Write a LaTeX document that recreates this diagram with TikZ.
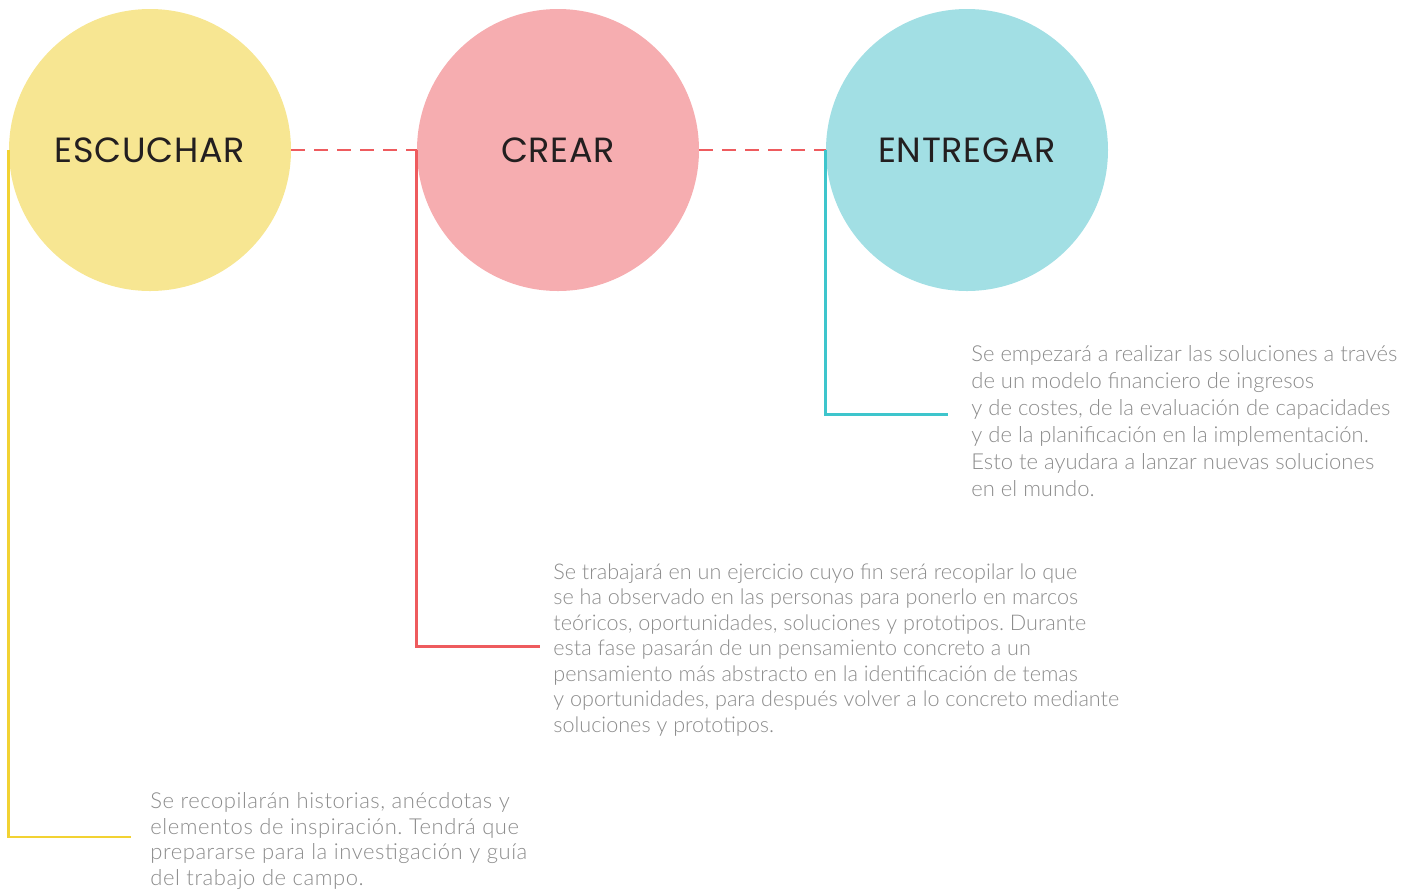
\documentclass[tikz,border=0pt]{standalone}
\usepackage{fontspec}
\setmainfont{Lato Light}
\newfontfamily\headfont{Poppins}
\usepackage{xcolor}
\usepackage{tikz}
\usetikzlibrary{positioning}
\frenchspacing

\definecolor{escuchaFill}{HTML}{F7E692}
\definecolor{crearFill}{HTML}{F6ADB0}
\definecolor{entregaFill}{HTML}{A2DFE4}
\definecolor{escuchaLine}{HTML}{F2D232}
\definecolor{crearLine}{HTML}{EE5B5E}
\definecolor{entregaLine}{HTML}{3EC5CC}
\definecolor{headInk}{HTML}{231F20}
\definecolor{bodyInk}{HTML}{8C8C8C}

\begin{document}
\begin{tikzpicture}[x=0.5pt, y=-0.5pt,
    phase/.style={circle, minimum size=141pt, inner sep=0pt, text=headInk,
        font=\headfont\fontsize{17.5}{20}\selectfont\addfontfeature{LetterSpace=2}},
    blurb/.style={anchor=west, align=left, inner sep=0pt, text=bodyInk,
        font=\fontsize{11}{13.5}\selectfont},
    link/.style={draw=crearLine, line width=1.4pt, dash pattern=on 7pt off 4.5pt},
    leader/.style={line width=1.4pt}]
    \useasboundingbox (0,0) rectangle (1421,891);
    % Three phases
    \node[phase, fill=escuchaFill] (escuchar) at (150,150) {ESCUCHAR};
    \node[phase, fill=crearFill] (crear) at (558,150) {CREAR};
    \node[phase, fill=entregaFill] (entregar) at (967,150) {ENTREGAR};
    % Dashed links between phases
    \draw[link] (escuchar.east) -- (crear.west);
    \draw[link] (crear.east) -- (entregar.west);
    % Descriptions
    \node[blurb] (txtEntregar) at (971,421) {Se empezará a realizar las soluciones a través\\
        de un modelo financiero de ingresos\\
        y de costes, de la evaluación de capacidades\\
        y de la planificación en la implementación.\\
        Esto te ayudara a lanzar nuevas soluciones\\
        en el mundo.};
    \node[blurb, font=\fontsize{10.8}{12.75}\selectfont] (txtCrear) at (553,650) {Se trabajará en un ejercicio cuyo fin será recopilar lo que\\
        se ha observado en las personas para ponerlo en marcos\\
        teóricos, oportunidades, soluciones y prototipos. Durante\\
        esta fase pasarán de un pensamiento concreto a un\\
        pensamiento más abstracto en la identificación de temas\\
        y oportunidades, para después volver a lo concreto mediante\\
        soluciones y prototipos.};
    \node[blurb, font=\fontsize{11}{12.75}\selectfont\addfontfeature{LetterSpace=2.5}] (txtEscuchar) at (150,841) {Se recopilarán historias, anécdotas y\\
        elementos de inspiración. Tendrá que\\
        prepararse para la investigación y guía\\
        del trabajo de campo.};
    % Leader lines
    \draw[leader, draw=escuchaLine] (escuchar.west) |- ([xshift=-9.5pt, yshift=2pt]txtEscuchar.west);
    \draw[leader, draw=crearLine] (crear.west) |- ([xshift=-6.5pt, yshift=1.75pt]txtCrear.west);
    \draw[leader, draw=entregaLine] (entregar.west) |- ([xshift=-11.5pt, yshift=3.25pt]txtEntregar.west);
\end{tikzpicture}
\end{document}
